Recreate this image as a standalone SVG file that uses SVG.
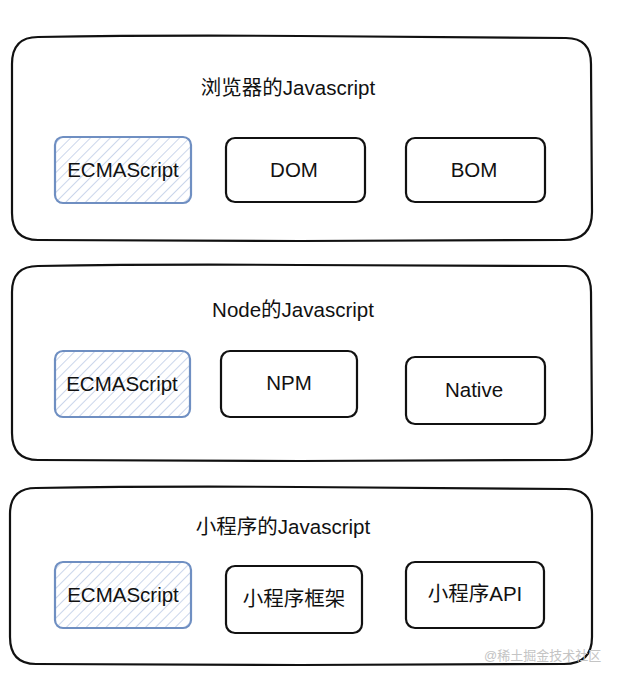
<svg xmlns="http://www.w3.org/2000/svg" width="620" height="682" viewBox="0 0 620 682">
<defs>
<pattern id="hatch" patternUnits="userSpaceOnUse" width="7" height="7" patternTransform="rotate(45)">
<line x1="0" y1="0" x2="0" y2="7" stroke="#aebfe0" stroke-width="1.3"/>
</pattern>
</defs>
<style>
.outer{fill:#fff;stroke:#111;stroke-width:2.2;}
.box{fill:#fff;stroke:#111;stroke-width:2.2;}
.es{fill:url(#hatch);stroke:#6f8fc2;stroke-width:2.2;}
.t{font-family:"Liberation Sans","Noto Sans CJK SC",sans-serif;font-size:20.5px;fill:#111;text-anchor:middle;}
.wm{font-family:"Liberation Sans","Noto Sans CJK SC",sans-serif;font-size:13px;fill:#c4c4c4;}
</style>
<rect width="620" height="682" fill="#fff"/>
<g id="browser">
<path class="outer" d="M38 37 Q160 35 300 36 T566 38 Q591 38 591 64 L592 212 Q592 240 564 240 L300 241 T38 240 Q12 240 12 213 L12 64 Q12 37 38 37 Z"/>
<text class="t" x="288" y="95">浏览器的Javascript</text>
<g id="browser-ecma"><rect class="es" x="55" y="137" width="136" height="66" rx="8"/><text class="t" x="123" y="177">ECMAScript</text></g>
<g id="browser-dom"><rect class="box" x="226" y="138" width="139" height="64" rx="9"/><text class="t" x="294" y="177">DOM</text></g>
<g id="browser-bom"><rect class="box" x="406" y="138" width="139" height="64" rx="9"/><text class="t" x="474" y="177">BOM</text></g>
</g>
<g id="node">
<path class="outer" d="M38 266 Q160 264 300 265 T566 266 Q591 266 591 292 L592 433 Q592 460 564 460 L300 461 T38 460 Q12 460 12 433 L12 292 Q12 266 38 266 Z"/>
<text class="t" x="293" y="317">Node的Javascript</text>
<g id="node-ecma"><rect class="es" x="55" y="351" width="135" height="66" rx="8"/><text class="t" x="122" y="391">ECMAScript</text></g>
<g id="node-npm"><rect class="box" x="221" y="351" width="136" height="66" rx="9"/><text class="t" x="289" y="390">NPM</text></g>
<g id="node-native"><rect class="box" x="406" y="357" width="139" height="67" rx="9"/><text class="t" x="474" y="397">Native</text></g>
</g>
<g id="mini">
<path class="outer" d="M36 488 Q160 486 300 487 T566 489 Q592 489 592 514 L592 637 Q592 664 564 664 L300 665 T36 664 Q10 664 10 637 L10 514 Q10 488 36 488 Z"/>
<text class="t" x="283" y="534">小程序的Javascript</text>
<g id="mini-ecma"><rect class="es" x="55" y="562" width="136" height="66" rx="8"/><text class="t" x="123" y="602">ECMAScript</text></g>
<g id="mini-frame"><rect class="box" x="226" y="566" width="136" height="67" rx="9"/><text class="t" x="294" y="606">小程序框架</text></g>
<g id="mini-api"><rect class="box" x="406" y="562" width="138" height="66" rx="9"/><text class="t" x="475" y="601">小程序API</text></g>
</g>
<g id="connectors"/>
<text class="wm" x="484" y="660">@稀土掘金技术社区</text>
</svg>
